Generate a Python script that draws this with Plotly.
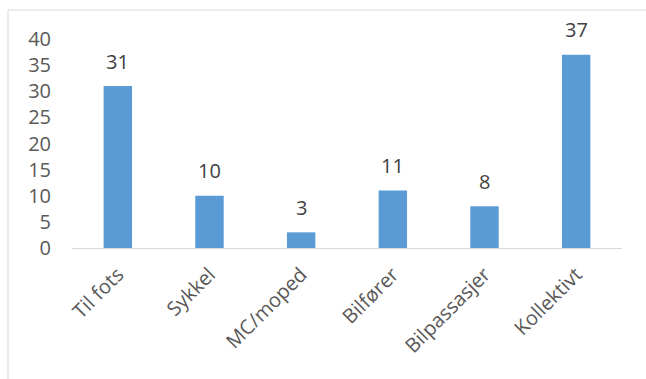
import plotly.graph_objects as go

categories = ["Til fots", "Sykkel", "MC/moped", "Bilfører", "Bilpassasjer", "Kollektivt"]
values = [31, 10, 3, 11, 8, 37]
y_ticks = [0, 5, 10, 15, 20, 25, 30, 35, 40]

FONT = "Open Sans"
SIZE = 20
fig = go.Figure()
fig.add_trace(go.Bar(
    x=categories, y=values,
    marker=dict(color="#5B9BD5", line=dict(width=0)),
    width=0.31,
))

for c, v in zip(categories, values):
    fig.add_annotation(x=c, y=v, text=str(v), showarrow=False,
                       yanchor="middle", yshift=25,
                       font=dict(family=FONT, size=SIZE, color="#404040"))

fig.add_shape(type="rect", xref="paper", yref="paper",
              x0=(8 - 72) / 550, x1=1.3, y0=-1, y1=(248 - 10) / 209,
              line=dict(color="#d9d9d9", width=1), fillcolor="rgba(0,0,0,0)")

fig.update_layout(
    width=646, height=379,
    margin=dict(l=72, r=24, t=39, b=131),
    paper_bgcolor="white", plot_bgcolor="white",
    showlegend=False,
    bargap=0.69,
    font=dict(family=FONT, size=SIZE, color="#595959"),
)
fig.update_xaxes(showline=True, linecolor="#d9d9d9", linewidth=1,
                 tickangle=-45, ticks="", showgrid=False,
                 ticklabelstandoff=6,
                 tickfont=dict(family=FONT, size=SIZE, color="#595959"))
fig.update_yaxes(range=[0, 40], tickvals=y_ticks, showgrid=False,
                 zeroline=False, showline=False, ticks="",
                 ticklabelstandoff=20,
                 tickfont=dict(family=FONT, size=SIZE, color="#595959"))

fig.write_html("out.html")
